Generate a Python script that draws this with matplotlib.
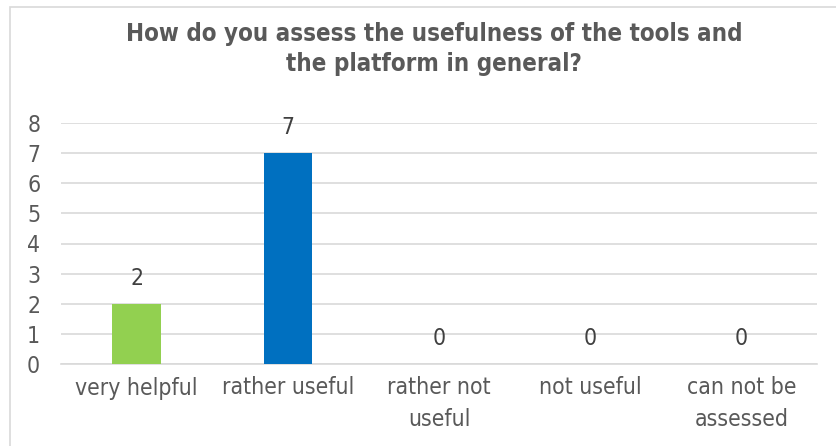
import matplotlib
matplotlib.use("Agg")
import matplotlib.pyplot as plt
from matplotlib.patches import Rectangle

categories = ["very helpful", "rather useful", "rather not\nuseful", "not useful", "can not be\nassessed"]
values = [2, 7, 0, 0, 0]
colors = ["#92D050", "#0070C0", "#0070C0", "#0070C0", "#0070C0"]
yticks = [0, 1, 2, 3, 4, 5, 6, 7, 8]
title = "How do you assess the usefulness of the tools and\nthe platform in general?"

plt.rcParams['font.family'] = ['DejaVu Sans']
plt.rcParams['font.stretch'] = 'condensed'

W, H = 836, 446
fig = plt.figure(figsize=(W/100, H/100), dpi=100)
fig.patch.set_facecolor("white")
fig.add_artist(Rectangle((10/W, -0.1), 1.2, (H-7)/H + 0.1, transform=fig.transFigure,
                         fill=False, edgecolor="#D9D9D9", linewidth=1.2))

ax = fig.add_axes([61/W, (H-364)/H, (817-61)/W, (364-123)/H])
x = list(range(len(categories)))
ax.bar(x, values, width=0.32, color=colors, zorder=3)
ax.set_xlim(-0.5, len(categories) - 0.5)
ax.set_ylim(0, 8)
ax.set_yticks(yticks)
ax.set_yticklabels([str(t) for t in yticks])
ax.yaxis.grid(True, color="#D9D9D9", linewidth=1.2, zorder=0)
for s in ax.spines.values():
    s.set_visible(False)
ax.spines['bottom'].set_visible(True)
ax.spines['bottom'].set_color("#D9D9D9")
ax.spines['bottom'].set_linewidth(1.2)
ax.tick_params(axis='both', length=0, labelsize=16.5, labelcolor="#595959")
ax.tick_params(axis='y', pad=15)
ax.tick_params(axis='x', pad=9)
ax.set_xticks(x)
ax.set_xticklabels(categories, linespacing=1.45)
for xi, v in zip(x, values):
    ax.annotate(str(v), (xi, v), xytext=(0, 10), textcoords="offset points",
                ha="center", va="bottom", fontsize=16.5, color="#404040")

fig.text(434/W, 1 - 49/H, title, ha="center", va="center", fontsize=17.3,
         fontweight="bold", color="#595959", linespacing=1.32)

fig.savefig("out.png", dpi=100, facecolor="white")
